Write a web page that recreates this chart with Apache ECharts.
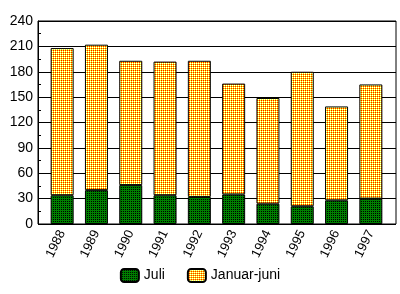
<!DOCTYPE html>
<html><head><meta charset="utf-8">
<script src="https://cdn.jsdelivr.net/npm/echarts@6/dist/echarts.min.js"></script>
<style>html,body{margin:0;padding:0;background:#fff}#c{width:400px;height:294px}</style>
</head><body><div id="c"></div>
<script>
const categories = ['1988','1989','1990','1991','1992','1993','1994','1995','1996','1997'];
const juli = [34, 40, 46, 34, 32, 35, 24, 21, 28, 30];
const januarJuni = [174, 172, 147, 158, 161, 131, 125, 159, 111, 135];
const yTicks = [0, 30, 60, 90, 120, 150, 180, 210, 240];

function makeTile(cells) {
  const c = document.createElement('canvas');
  c.width = cells[0].length; c.height = cells.length;
  const ctx = c.getContext('2d');
  cells.forEach((row, y) => row.forEach((col, x) => { ctx.fillStyle = col; ctx.fillRect(x, y, 1, 1); }));
  return c;
}
const Y = '#ffff00', R = '#ff0000', W = '#ffffff', G = '#008000', K = '#000000';
const pinkTile = makeTile([[Y, R], [W, Y]]);
const greenTile = makeTile([[G, G], [G, K]]);

const chart = echarts.init(document.getElementById('c'), null, {renderer: 'canvas'});
const font = 'Liberation Sans';
chart.setOption({
  animation: false,
  backgroundColor: '#fff',
  grid: [
    {left: 38, right: 4, top: 21, bottom: 70, show: true, borderColor: '#000', borderWidth: 1, containLabel: false},
    {left: 45, right: 12, top: 21, bottom: 70, containLabel: false}
  ],
  legend: {
    bottom: 6, left: 'center',
    itemWidth: 18, itemHeight: 13, itemGap: 22,
    textStyle: {fontFamily: font, fontSize: 14, color: '#000'},
    data: ['Juli', 'Januar-juni']
  },
  xAxis: [
    {type: 'value', gridIndex: 0, min: 0, max: 1, show: false},
    {type: 'category', gridIndex: 1, data: categories,
     axisLine: {show: false}, axisTick: {show: false},
     axisLabel: {rotate: 64, fontFamily: font, fontSize: 13, color: '#000', margin: 7}}
  ],
  yAxis: [
    {type: 'value', gridIndex: 0, min: 0, max: yTicks[yTicks.length-1], interval: 30,
     axisLine: {show: true, lineStyle: {color: '#000', width: 1}},
     axisTick: {show: true, inside: true, length: 3, lineStyle: {color: '#000'}},
     minorTick: {show: true, splitNumber: 2, length: 3, lineStyle: {color: '#000'}},
     splitLine: {show: true, lineStyle: {color: '#000', width: 1}},
     axisLabel: {fontFamily: font, fontSize: 14, color: '#000', margin: 5,
       formatter: v => yTicks.includes(v) ? String(v) : ''}},
    {type: 'value', gridIndex: 1, min: 0, max: 240, show: false}
  ],
  series: [
    {name: 'Juli', type: 'bar', stack: 's', xAxisIndex: 1, yAxisIndex: 1, data: juli,
     barWidth: 23,
     itemStyle: {color: {image: greenTile, repeat: 'repeat'}, borderColor: '#000', borderWidth: 1}},
    {name: 'Januar-juni', type: 'bar', stack: 's', xAxisIndex: 1, yAxisIndex: 1, data: januarJuni,
     barWidth: 23,
     itemStyle: {color: {image: pinkTile, repeat: 'repeat'}, borderColor: '#000', borderWidth: 1}}
  ]
});
</script></body></html>
